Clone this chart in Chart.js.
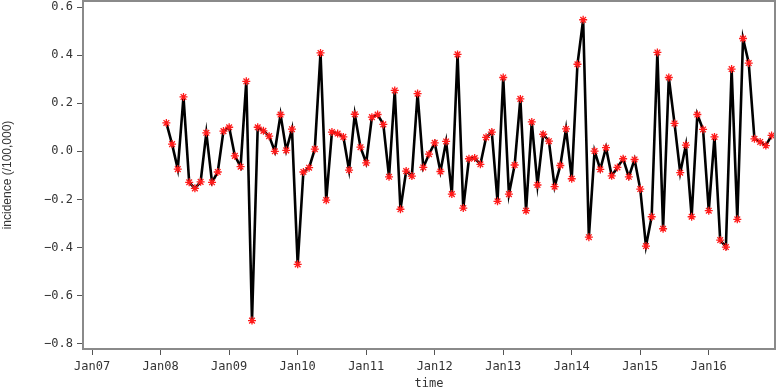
<!DOCTYPE html>
<html>
<head>
<meta charset="utf-8">
<script src="https://cdn.jsdelivr.net/npm/chart.js@4"></script>
<style>
  html, body { margin: 0; padding: 0; background: #fff; }
  #wrap { width: 778px; height: 389px; }
</style>
</head>
<body>
<div id="wrap"><canvas id="incChart" width="778" height="389"></canvas></div>
<script>
// monthly incidence residuals, Feb 2008 .. Dec 2016
const incidence = [
    0.118, 0.030, -0.074, 0.226, -0.129, -0.154, -0.127, 0.077, -0.129, -0.086, 0.084,
    0.100, -0.019, -0.064, 0.291, -0.704, 0.100, 0.085, 0.063, 0.000, 0.153, 0.004, 0.092,
    -0.470, -0.086, -0.068, 0.009, 0.409, -0.203, 0.080, 0.074, 0.060, -0.078, 0.154, 0.017,
    -0.048, 0.142, 0.153, 0.112, -0.106, 0.253, -0.241, -0.082, -0.103, 0.240, -0.067,
    -0.012, 0.035, -0.084, 0.041, -0.178, 0.403, -0.236, -0.031, -0.028, -0.054, 0.058,
    0.080, -0.208, 0.307, -0.178, -0.057, 0.218, -0.247, 0.122, -0.140, 0.071, 0.042,
    -0.147, -0.059, 0.093, -0.114, 0.362, 0.547, -0.357, 0.001, -0.075, 0.015, -0.102,
    -0.067, -0.031, -0.106, -0.034, -0.157, -0.394, -0.272, 0.411, -0.322, 0.307, 0.116,
    -0.089, 0.026, -0.272, 0.153, 0.091, -0.247, 0.060, -0.369, -0.398, 0.342, -0.283,
    0.469, 0.367, 0.052, 0.039, 0.024, 0.066
];
const firstMonth = 13; // months counted from Jan 2007, so 13 = Feb 2008

const tickLabels = ['Jan07', 'Jan08', 'Jan09', 'Jan10', 'Jan11', 'Jan12', 'Jan13', 'Jan14', 'Jan15', 'Jan16'];
const tickMonths = [0, 12, 24, 36, 48, 60, 72, 84, 96, 108];
const yTicks = [-0.8, -0.6, -0.4, -0.2, 0.0, 0.2, 0.4, 0.6];

const points = incidence.map((v, i) => ({ x: firstMonth + i, y: v }));

// grey box around the plot area
const frame = {
    id: 'frame',
    afterDraw(chart) {
        const a = chart.chartArea;
        const ctx = chart.ctx;
        ctx.save();
        ctx.strokeStyle = '#8a8a8a';
        ctx.lineWidth = 2;
        ctx.strokeRect(a.left, a.top, a.right - a.left, a.bottom - a.top);
        ctx.restore();
    }
};

const ctx = document.getElementById('incChart').getContext('2d');
const incChart = new Chart(ctx, {
    type: 'line',
    data: {
        datasets: [{
            data: points,
            borderColor: '#000',
            borderWidth: 2.6,
            tension: 0,
            pointStyle: 'star',
            pointRadius: 4,
            pointBorderColor: '#ff1a1a',
            pointBackgroundColor: '#ff1a1a',
            pointBorderWidth: 1.3
        }]
    },
    options: {
        responsive: false,
        animation: false,
        layout: { autoPadding: false, padding: { left: 0, right: 3, top: 1, bottom: 0 } },
        plugins: {
            legend: { display: false },
            tooltip: { enabled: false }
        },
        scales: {
            x: {
                type: 'linear',
                min: -1.6,
                max: 119.6,
                afterBuildTicks: (scale) => {
                    scale.ticks = tickMonths.map(m => ({ value: m }));
                },
                afterFit: (scale) => {
                    scale.height = 40;
                    scale.paddingLeft = 0;
                    scale.paddingRight = 0;
                },
                ticks: {
                    autoSkip: false,
                    maxRotation: 0,
                    padding: 5,
                    color: '#333',
                    font: { family: 'DejaVu Sans Mono', size: 12 },
                    callback: (v) => tickLabels[tickMonths.indexOf(v)]
                },
                grid: {
                    display: true,
                    drawOnChartArea: false,
                    drawTicks: true,
                    tickLength: 6,
                    color: '#555'
                },
                border: { display: true, color: '#8a8a8a', width: 2 },
                title: {
                    display: true,
                    text: 'time',
                    color: '#333',
                    font: { family: 'DejaVu Sans Mono', size: 12 },
                    padding: { top: 0, bottom: -2 }
                }
            },
            y: {
                min: -0.822,
                max: 0.625,
                afterBuildTicks: (scale) => {
                    scale.ticks = yTicks.map(v => ({ value: v }));
                },
                afterFit: (scale) => {
                    scale.width = 83;
                    scale.paddingTop = 0;
                    scale.paddingBottom = 0;
                },
                ticks: {
                    padding: 4,
                    color: '#333',
                    font: { family: 'DejaVu Sans Mono', size: 12, lineHeight: 0.1 },
                    callback: (v) => v.toFixed(1).replace('-', '\u2212')
                },
                grid: {
                    display: true,
                    drawOnChartArea: false,
                    drawTicks: true,
                    tickLength: 6,
                    color: '#555'
                },
                border: { display: true, color: '#8a8a8a', width: 2 },
                title: {
                    display: true,
                    text: 'incidence (/100,000)',
                    color: '#333',
                    font: { family: 'Liberation Sans Narrow, Liberation Sans', size: 12 },
                    padding: { top: 0, bottom: 0 }
                }
            }
        }
    },
    plugins: [frame]
});
</script>
</body>
</html>
